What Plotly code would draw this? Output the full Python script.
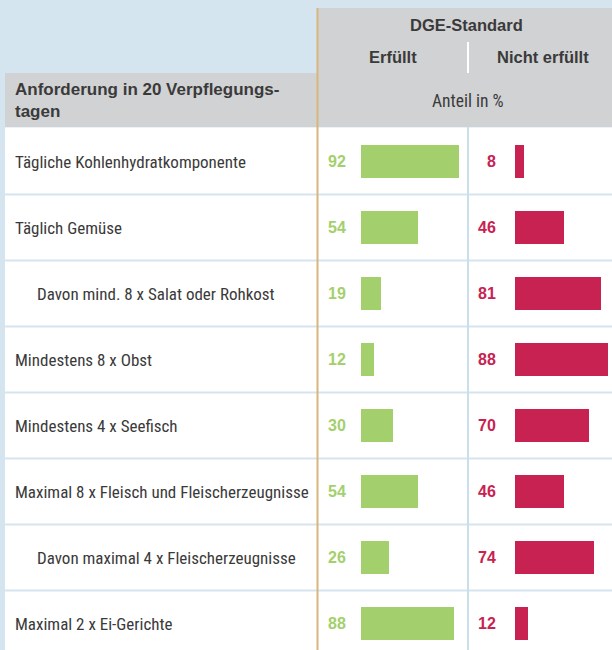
import plotly.graph_objects as go

# ---------------- data ----------------
categories = [
    "Tägliche Kohlenhydratkomponente",
    "Täglich Gemüse",
    "Davon mind. 8 x Salat oder Rohkost",
    "Mindestens 8 x Obst",
    "Mindestens 4 x Seefisch",
    "Maximal 8 x Fleisch und Fleischerzeugnisse",
    "Davon maximal 4 x Fleischerzeugnisse",
    "Maximal 2 x Ei-Gerichte",
]
indented = [False, False, True, False, False, False, True, False]
erfuellt = [92, 54, 19, 12, 30, 54, 26, 88]
nicht_erfuellt = [8, 46, 81, 88, 70, 46, 74, 12]

header_title = "DGE-Standard"
col_labels = ["Erfüllt", "Nicht erfüllt"]
unit_label = "Anteil in %"
row_header = "Anforderung in 20 Verpflegungs-<br>tagen"

# ---------------- styles ----------------
W, H = 612, 650
GREEN = "#a3d06c"
RED = "#c72251"
BLUE_BG = "#d4e5ef"
SEP = "#c9dfec"
GRAY = "#d1d2d4"
TAN = "#d8b57c"
TXT = "#3a3a3a"
NARROW = "Roboto Condensed, Liberation Sans Narrow, Arial Narrow, sans-serif"
BOLD = "Liberation Sans, Arial, sans-serif"

px_per_unit = 1.062
row_h = 66.0
row0_center = 161.5

def xp(px):
    return px / W

def yp(px):  # pixel from top -> paper fraction
    return 1 - px / H

y_top = (0 - row0_center) / row_h
y_bot = (H - row0_center) / row_h

rows = list(range(len(categories)))

fig = go.Figure()
fig.add_trace(go.Bar(
    x=erfuellt, y=rows, orientation="h", marker=dict(color=GREEN, line=dict(width=0)),
    width=0.5, xaxis="x", yaxis="y", hoverinfo="x", showlegend=False,
))
fig.add_trace(go.Bar(
    x=nicht_erfuellt, y=rows, orientation="h", marker=dict(color=RED, line=dict(width=0)),
    width=0.5, xaxis="x2", yaxis="y", hoverinfo="x", showlegend=False,
))

g0, g1 = 361, 467
r0, r1 = 515, 612

shapes = []
# header gray blocks
shapes.append(dict(type="rect", xref="paper", yref="paper", x0=xp(318), x1=1, y0=yp(127), y1=yp(8),
                   fillcolor=GRAY, line=dict(width=0), layer="below"))
shapes.append(dict(type="rect", xref="paper", yref="paper", x0=xp(5), x1=xp(318), y0=yp(127), y1=yp(73),
                   fillcolor=GRAY, line=dict(width=0), layer="below"))
# white rows
for i in rows:
    shapes.append(dict(type="rect", xref="paper", yref="y", x0=xp(5), x1=1,
                       y0=i - 0.5 + (1.0 / row_h) if i > 0 else i - 0.5 - 1.0 / row_h,
                       y1=i + 0.5 - (1.0 / row_h),
                       fillcolor="white", line=dict(width=0), layer="below"))
# vertical separator between columns in data area
shapes.append(dict(type="line", xref="paper", yref="paper", x0=xp(468), x1=xp(468), y0=0, y1=yp(127),
                   line=dict(color=SEP, width=2), layer="below"))
# white separator in header
shapes.append(dict(type="line", xref="paper", yref="paper", x0=xp(468), x1=xp(468), y0=yp(73), y1=yp(42),
                   line=dict(color="white", width=2), layer="below"))
# tan vertical line
shapes.append(dict(type="line", xref="paper", yref="paper", x0=xp(317.5), x1=xp(317.5), y0=0, y1=yp(8),
                   line=dict(color=TAN, width=2), layer="below"))

annotations = []
for i, (c, ind, a, b) in enumerate(zip(categories, indented, erfuellt, nicht_erfuellt)):
    annotations.append(dict(x=xp(35 if ind else 13), y=i, xref="paper", yref="y", text=c, showarrow=False,
                            xanchor="left", yanchor="middle", font=dict(family=NARROW, size=17, color=TXT)))
    annotations.append(dict(x=xp(348), y=i, xref="paper", yref="y", text=f"<b>{a}</b>", showarrow=False,
                            xanchor="right", yanchor="middle", font=dict(family=BOLD, size=16, color=GREEN)))
    annotations.append(dict(x=xp(498), y=i, xref="paper", yref="y", text=f"<b>{b}</b>", showarrow=False,
                            xanchor="right", yanchor="middle", font=dict(family=BOLD, size=16, color=RED)))

annotations += [
    dict(x=xp(466), y=yp(25), xref="paper", yref="paper", text=f"<b>{header_title}</b>", showarrow=False,
         xanchor="center", yanchor="middle", font=dict(family=BOLD, size=16.5, color=TXT)),
    dict(x=xp(393), y=yp(57), xref="paper", yref="paper", text=f"<b>{col_labels[0]}</b>", showarrow=False,
         xanchor="center", yanchor="middle", font=dict(family=BOLD, size=16.5, color=TXT)),
    dict(x=xp(543), y=yp(57), xref="paper", yref="paper", text=f"<b>{col_labels[1]}</b>", showarrow=False,
         xanchor="center", yanchor="middle", font=dict(family=BOLD, size=16.5, color=TXT)),
    dict(x=xp(468), y=yp(101), xref="paper", yref="paper", text=unit_label, showarrow=False,
         xanchor="center", yanchor="middle", font=dict(family=NARROW, size=17.5, color=TXT)),
    dict(x=xp(13), y=yp(101), xref="paper", yref="paper", text=f"<b>{row_header}</b>", showarrow=False,
         xanchor="left", yanchor="middle", align="left", font=dict(family=BOLD, size=17, color=TXT)),
]

fig.update_layout(
    width=W, height=H,
    margin=dict(l=0, r=0, t=0, b=0),
    paper_bgcolor=BLUE_BG, plot_bgcolor="rgba(0,0,0,0)",
    xaxis=dict(domain=[xp(g0), xp(g1)], range=[0, (g1 - g0) / px_per_unit], visible=False, fixedrange=True),
    xaxis2=dict(domain=[xp(r0), xp(r1)], range=[0, (r1 - r0) / px_per_unit], visible=False, fixedrange=True,
                anchor="y"),
    yaxis=dict(domain=[0, 1], range=[y_bot, y_top], visible=False, fixedrange=True),
    shapes=shapes, annotations=annotations,
    bargap=0,
)

fig.write_html(
    "out.html",
    config={"displayModeBar": False},
    post_script="document.body.style.margin='0';document.body.style.overflow='hidden';",
)
